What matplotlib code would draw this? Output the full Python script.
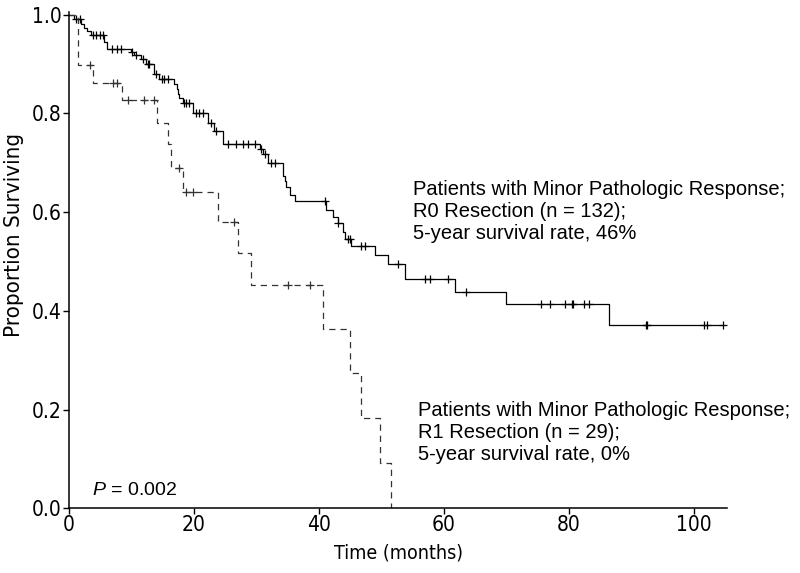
import numpy as np
import matplotlib
matplotlib.use("Agg")
import matplotlib.pyplot as plt
from matplotlib import font_manager
from matplotlib.font_manager import FontProperties

# R0 resection curve (step times in months, survival after each drop)
r0_times = [0.8, 1.9, 2.4, 2.9, 3.5, 5.6, 6.1, 9.9, 10.5, 11.5, 12.3, 13.7, 14.5,
            16.9, 17.3, 17.4, 17.7, 18.2, 19.8, 22.2, 23.2, 24.6, 30.5, 31.0, 31.9,
            34.2, 34.5, 34.8, 35.3, 36.1, 41.2, 42.2, 43.0, 43.8, 44.2, 45.2, 48.9,
            51.0, 53.7, 61.7, 70.0, 86.4]
r0_surv = [0.99, 0.98, 0.973, 0.966, 0.958, 0.945, 0.93, 0.925, 0.918, 0.91, 0.90,
           0.88, 0.87, 0.86, 0.85, 0.84, 0.83, 0.82, 0.80, 0.78, 0.765, 0.737, 0.727,
           0.717, 0.70, 0.673, 0.663, 0.65, 0.635, 0.622, 0.605, 0.59, 0.578, 0.56,
           0.545, 0.531, 0.513, 0.495, 0.465, 0.438, 0.414, 0.372]
r0_censor = [1.1, 1.8, 3.8, 4.3, 5.0, 5.4, 6.9, 7.7, 8.3, 10.1, 10.7, 11.8, 12.6,
             12.9, 13.9, 14.9, 15.3, 15.8, 18.4, 18.8, 19.3, 20.4, 20.9, 21.4, 22.7,
             23.6, 25.4, 26.7, 27.8, 28.6, 29.7, 30.8, 31.3, 32.4, 32.9, 40.9, 43.0,
             44.6, 44.9, 46.8, 47.3, 52.6, 56.9, 57.7, 60.7, 63.6, 75.6, 77.0, 79.4,
             80.5, 80.7, 82.4, 83.2, 92.3, 92.5, 101.6, 102.1, 104.6]
r0_end = 104.6

# R1 resection curve
r1_times = [1.4, 3.8, 8.5, 14.1, 15.8, 16.3, 18.2, 23.8, 27.0, 29.1, 40.7, 44.9,
            46.8, 49.7, 51.6]
r1_surv = [0.897, 0.862, 0.826, 0.78, 0.737, 0.69, 0.64, 0.58, 0.517, 0.452, 0.364,
           0.273, 0.182, 0.091, 0.0]
r1_censor = [3.4, 7.0, 7.7, 9.4, 12.1, 13.6, 17.6, 18.8, 19.8, 26.5, 35.0, 38.5]

x_ticks = [0, 20, 40, 60, 80, 100]
y_ticks = [0.0, 0.2, 0.4, 0.6, 0.8, 1.0]

label_r0 = "Patients with Minor Pathologic Response;\nR0 Resection (n = 132);\n5-year survival rate, 46%"
label_r1 = "Patients with Minor Pathologic Response;\nR1 Resection (n = 29);\n5-year survival rate, 0%"

plt.rcParams['font.family'] = ['Liberation Sans', 'DejaVu Sans']
plt.rcParams['mathtext.fontset'] = 'custom'
plt.rcParams['mathtext.it'] = 'Liberation Sans:italic'
plt.rcParams['mathtext.rm'] = 'Liberation Sans'

# look for a narrow sans face for the axis text (the original uses one)
narrow_file = None
for f in font_manager.fontManager.ttflist:
    fn = f.fname.lower()
    if ("narrow" in fn or "condensed" in fn) and "sans" in fn and "bold" not in fn \
            and "oblique" not in fn and "italic" not in fn and "mono" not in fn:
        narrow_file = f.fname
        break


def axis_font(size):
    if narrow_file:
        return FontProperties(fname=narrow_file, size=size)
    return FontProperties(family="Liberation Sans", size=size * 0.95)


def step_xy(times, surv, end=None):
    xs = [0.0]
    ys = [1.0]
    for t, s in zip(times, surv):
        xs += [t, t]
        ys += [ys[-1], s]
    if end is not None:
        xs.append(end)
        ys.append(ys[-1])
    return np.array(xs), np.array(ys)


def surv_at(times, surv, t):
    s = 1.0
    for tt, ss in zip(times, surv):
        if tt <= t:
            s = ss
    return s


fig = plt.figure(figsize=(8, 5.73), dpi=100)
ax = fig.add_axes([0.086, 0.113, 0.823, 0.866])

x0, y0 = step_xy(r0_times, r0_surv, r0_end)
ax.plot(x0, y0, color="black", lw=0.9)
ax.plot(r0_censor, [surv_at(r0_times, r0_surv, c) for c in r0_censor],
        ls="none", marker="+", ms=6, mew=0.9, color="black")

x1, y1 = step_xy(r1_times, r1_surv)
ax.plot(x1, y1, color="#333333", lw=0.9, ls=(0, (5, 4)))
ax.plot(r1_censor, [surv_at(r1_times, r1_surv, c) for c in r1_censor],
        ls="none", marker="+", ms=6, mew=0.9, color="#333333")

ax.set_xlim(0, 105.3)
ax.set_ylim(0, 1.005)
ax.set_xticks(x_ticks)
ax.set_yticks(y_ticks)
ax.set_yticklabels([f"{v:.1f}" for v in y_ticks])
ax.spines['top'].set_visible(False)
ax.spines['right'].set_visible(False)
ax.spines['left'].set_linewidth(1.1)
ax.spines['bottom'].set_linewidth(1.1)
ax.tick_params(direction="out", length=4, width=1, pad=1)
for lab in ax.get_xticklabels() + ax.get_yticklabels():
    lab.set_fontproperties(axis_font(15))

ax.set_xlabel("Time (months)", fontproperties=axis_font(14), labelpad=6)
ax.set_ylabel("Proportion Surviving", fontproperties=axis_font(16))
ax.yaxis.set_label_coords(-0.068, 0.55)

ax.text(55.0, 0.665, label_r0, fontsize=14.5, va="top", ha="left", linespacing=1.2)
ax.text(55.9, 0.218, label_r1, fontsize=14.5, va="top", ha="left", linespacing=1.2)
ax.text(3.7, 0.018, "$P$ = 0.002", fontsize=14, va="bottom", ha="left")

fig.savefig("out.png", dpi=100)
